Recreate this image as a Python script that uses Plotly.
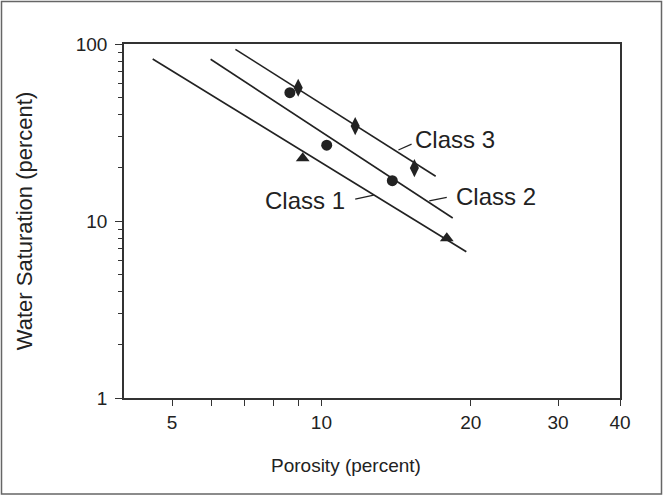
import numpy as np
import plotly.graph_objects as go

# --- data (porosity %, water saturation %) ---
class1_line_x = [4.57, 19.6]
class1_line_y = [82.3, 6.7]
class2_line_x = [5.98, 18.4]
class2_line_y = [82.0, 10.4]
class3_line_x = [6.71, 17.0]
class3_line_y = [93.3, 17.9]

class1_pts_x = [9.17, 17.9]
class1_pts_y = [22.6, 7.98]
class2_pts_x = [8.64, 10.25, 13.9]
class2_pts_y = [53.1, 26.8, 16.9]
class3_pts_x = [8.98, 11.7, 15.4]
class3_pts_y = [56.6, 34.4, 19.9]

labels = ["Class 1", "Class 2", "Class 3"]
label_x = [9.28, 22.5, 18.6]
label_y = [13.1, 13.8, 28.7]
leader_x = [[11.7, 12.75], [16.5, 17.9], [14.3, 15.2]]
leader_y = [[13.3, 14.0], [13.0, 13.6], [25.2, 27.2]]

x_ticks = [5, 10, 20, 30, 40]
x_minor = [6, 7, 8, 9]
y_ticks = [1, 10, 100]
y_minor = [2, 3, 4, 5, 6, 7, 8, 9, 20, 30, 40, 50, 60, 70, 80, 90]

W, H = 664, 497
ML, MR, MT, MB = 124, 44, 44, 99
INK = "#222222"
AXC = "#333333"
FONT = "Liberation Sans, Arial, sans-serif"

fig = go.Figure()

for lx, ly in [(class1_line_x, class1_line_y), (class2_line_x, class2_line_y),
               (class3_line_x, class3_line_y)]:
    fig.add_trace(go.Scatter(x=lx, y=ly, mode="lines",
                             line=dict(color=INK, width=1.6), hoverinfo="skip"))

fig.add_trace(go.Scatter(x=class1_pts_x, y=class1_pts_y, mode="markers",
                         marker=dict(symbol="triangle-up", size=12, color=INK)))
fig.add_trace(go.Scatter(x=class2_pts_x, y=class2_pts_y, mode="markers",
                         marker=dict(symbol="circle", size=11, color=INK)))
fig.add_trace(go.Scatter(x=class3_pts_x, y=class3_pts_y, mode="markers",
                         marker=dict(symbol="diamond-tall", size=13, color=INK)))

# leader lines from curves to labels
for lx, ly in zip(leader_x, leader_y):
    fig.add_trace(go.Scatter(x=lx, y=ly, mode="lines",
                             line=dict(color=INK, width=1.2), hoverinfo="skip"))

for t, x, y in zip(labels, label_x, label_y):
    fig.add_annotation(x=np.log10(x), y=np.log10(y), text=t, showarrow=False,
                       font=dict(family=FONT, size=24, color=INK))

pw, ph = W - ML - MR, H - MT - MB

# x title sits a little left of the plot centre in the original
fig.add_annotation(xref="paper", yref="paper", x=(346 - ML) / pw,
                   y=-(465 - (MT + ph)) / ph, yanchor="middle",
                   text="Porosity (percent)", showarrow=False,
                   font=dict(family=FONT, size=19, color=INK))

# outer frame around the whole figure
fig.add_shape(type="rect", xref="paper", yref="paper",
              x0=-(ML - 1.5) / pw, x1=1 + (MR - 2.5) / pw,
              y0=-(MB - 3) / ph, y1=1 + (MT - 1.5) / ph,
              line=dict(color="#666666", width=1.5))

axis_common = dict(
    type="log", showgrid=False, zeroline=False,
    showline=True, mirror=True, linecolor=AXC, linewidth=1.6,
    ticks="outside", tickcolor=AXC, tickwidth=1.3,
    tickfont=dict(family=FONT, size=19, color=INK),
)

fig.update_xaxes(
    **axis_common,
    range=[np.log10(4), np.log10(40)],
    tickmode="array", tickvals=x_ticks, ticktext=[str(v) for v in x_ticks],
    ticklen=6,
    minor=dict(tickmode="array", tickvals=x_minor, ticks="outside", ticklen=6,
               tickcolor=AXC, tickwidth=1.3),
)
fig.update_yaxes(
    **axis_common,
    range=[0, 2],
    tickmode="array", tickvals=y_ticks, ticktext=[str(v) for v in y_ticks],
    ticklen=7, ticklabelstandoff=4,
    minor=dict(tickmode="array", tickvals=y_minor, ticks="outside", ticklen=4,
               tickcolor=AXC, tickwidth=1.3),
    title=dict(text="Water Saturation (percent)", standoff=37,
               font=dict(family=FONT, size=22, color=INK)),
)

fig.update_layout(
    width=W, height=H,
    margin=dict(l=ML, r=MR, t=MT, b=MB),
    paper_bgcolor="white", plot_bgcolor="white",
    showlegend=False,
)

# drop the browser's default 8px body margin so the figure fills the window
fig.write_html("out.html",
               config={"displayModeBar": False},
               post_script="document.body.style.margin='0';"
                           "document.body.style.overflow='hidden';")
